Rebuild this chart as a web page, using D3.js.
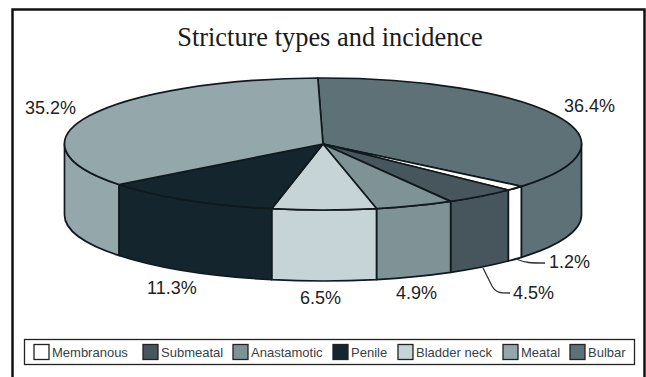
<!DOCTYPE html>
<html>
<head>
<meta charset="utf-8">
<script src="https://cdnjs.cloudflare.com/ajax/libs/d3/7.8.5/d3.min.js"></script>
<style>
  html, body { margin: 0; padding: 0; background: #fff; overflow: hidden; }
  svg { display: block; }
  .pct { font: 18px "Liberation Sans", Arial, sans-serif; fill: #222; }
  .leg { font: 13px "Liberation Sans", Arial, sans-serif; fill: #364145; }
</style>
</head>
<body>
<div id="chart"></div>
<script>
// drawn clockwise from the back of the pie
var categories = ['Bulbar', 'Membranous', 'Submeatal', 'Anastamotic', 'Bladder neck', 'Penile', 'Meatal'];
var values = [36.4, 1.2, 4.5, 4.9, 6.5, 11.3, 35.2];
var sliceColors = ['#5d7176', '#ffffff', '#46565c', '#7f9397', '#c6d3d7', '#14252d', '#94a8ab'];
var legendOrder = ['Membranous', 'Submeatal', 'Anastamotic', 'Penile', 'Bladder neck', 'Meatal', 'Bulbar'];
var title = 'Stricture types and incidence';

var w = 646, h = 377;
var cx = 323, cy = 144;		// centre of the top face
var rx = 258.5, ry = 66;
var depth = 71;
var lineColor = '#10191d';

var color = d3.scaleOrdinal().domain(categories).range(sliceColors);

var svg = d3.select('#chart').append('svg')
	.attr('width', w)
	.attr('height', h);

// outer frame, its bottom edge runs off the page
svg.append('rect')
	.attr('x', 12.5).attr('y', 9.5)
	.attr('width', 632).attr('height', 380)
	.attr('fill', '#fff')
	.attr('stroke', '#111')
	.attr('stroke-width', 2.5);

svg.append('text')
	.attr('x', 330).attr('y', 46)
	.attr('text-anchor', 'middle')
	.style('font', '26.4px "Liberation Serif", "Times New Roman", serif')
	.style('fill', '#1a1a1a')
	.text(title);

var pie = d3.pie()
	.sort(null)
	.startAngle(-0.02)
	.endAngle(2 * Math.PI - 0.02)
	.value(function(d) { return d.value; });

var slices = pie(categories.map(function(c, i) { return {name: c, value: values[i]}; }));

// d3.pie angles run clockwise from 12 o'clock
function px(a) { return cx + rx * Math.sin(a); }
function py(a) { return cy - ry * Math.cos(a); }

var rimStart = Math.PI / 2, rimEnd = 3 * Math.PI / 2;

// outer wall of one slice, only the part facing the viewer
function wall(d) {
	var a0 = Math.max(d.startAngle, rimStart), a1 = Math.min(d.endAngle, rimEnd);
	if (a1 <= a0) return null;
	return 'M' + px(a0) + ',' + py(a0) +
		'A' + rx + ',' + ry + ' 0 0 1 ' + px(a1) + ',' + py(a1) +
		'L' + px(a1) + ',' + (py(a1) + depth) +
		'A' + rx + ',' + ry + ' 0 0 0 ' + px(a0) + ',' + (py(a0) + depth) + 'Z';
}

// wedge on the top face
function wedge(d) {
	var large = d.endAngle - d.startAngle > Math.PI ? 1 : 0;
	return 'M' + cx + ',' + cy +
		'L' + px(d.startAngle) + ',' + py(d.startAngle) +
		'A' + rx + ',' + ry + ' 0 ' + large + ' 1 ' + px(d.endAngle) + ',' + py(d.endAngle) + 'Z';
}

var pieG = svg.append('g')
	.attr('stroke', lineColor)
	.attr('stroke-width', 1.7)
	.attr('stroke-linejoin', 'round');

pieG.selectAll('path.wall')
	.data(slices.filter(function(d) { return wall(d); }))
	.enter().append('path')
	.attr('class', 'wall')
	.attr('d', wall)
	.attr('fill', function(d) { return color(d.data.name); });

pieG.selectAll('path.top')
	.data(slices)
	.enter().append('path')
	.attr('class', 'top')
	.attr('d', wedge)
	.attr('fill', function(d) { return color(d.data.name); });

// percentage labels
var labelPos = {
	'Bulbar': [564, 112], 'Membranous': [549, 268], 'Submeatal': [513, 299],
	'Anastamotic': [396, 299], 'Bladder neck': [300, 304], 'Penile': [147, 294], 'Meatal': [25, 114]
};
svg.selectAll('text.pct')
	.data(slices)
	.enter().append('text')
	.attr('class', 'pct')
	.attr('x', function(d) { return labelPos[d.data.name][0]; })
	.attr('y', function(d) { return labelPos[d.data.name][1]; })
	.text(function(d) { return d.data.value.toFixed(1) + '%'; });

// leader lines for the two narrow slices
svg.append('path')
	.attr('d', 'M516,259 C526,263 530,263 545,263')
	.attr('fill', 'none').attr('stroke', '#333').attr('stroke-width', 1.3);
svg.append('path')
	.attr('d', 'M483,268 L492,286 C496,293 500,293 510,293')
	.attr('fill', 'none').attr('stroke', '#333').attr('stroke-width', 1.3);

// legend
svg.append('rect')
	.attr('x', 24.5).attr('y', 339.5)
	.attr('width', 610).attr('height', 25)
	.attr('fill', '#fff')
	.attr('stroke', '#222')
	.attr('stroke-width', 1.3);

var legendX = {
	'Membranous': 34, 'Submeatal': 143, 'Anastamotic': 233, 'Penile': 333,
	'Bladder neck': 398, 'Meatal': 503, 'Bulbar': 570
};
var legend = svg.selectAll('g.legend')
	.data(legendOrder)
	.enter().append('g')
	.attr('class', 'legend')
	.attr('transform', function(d) { return 'translate(' + legendX[d] + ',344.5)'; });

legend.append('rect')
	.attr('width', 15).attr('height', 15)
	.attr('fill', function(d) { return color(d); })
	.attr('stroke', '#222')
	.attr('stroke-width', 1.3);

legend.append('text')
	.attr('class', 'leg')
	.attr('x', 18).attr('y', 12.5)
	.text(function(d) { return d; });
</script>
</body>
</html>
